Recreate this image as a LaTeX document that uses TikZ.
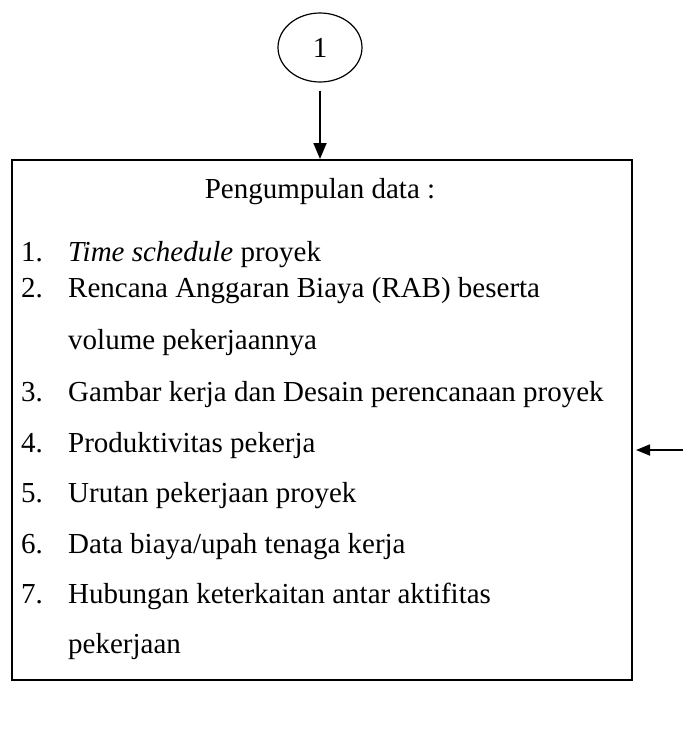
\documentclass[tikz,border=0pt]{standalone}
\usepackage{fontspec}
\setmainfont{Liberation Serif}
\usetikzlibrary{shapes.geometric,arrows.meta,positioning,calc}
\begin{document}
\begin{tikzpicture}[x=1pt,y=-1pt,
  txt/.style={anchor=base west,inner sep=0pt,font=\fontsize{29}{34}\selectfont},
  conn/.style={line width=1.8pt,-{Triangle[length=16pt,width=13pt]}},
  sideconn/.style={line width=1.8pt,-{Triangle[length=14pt,width=11pt]}}]
\useasboundingbox (0,0) rectangle (683,742);
% connector circle
\node[ellipse,draw,line width=1.2pt,minimum width=84pt,minimum height=69pt,
      font=\fontsize{29}{30}\selectfont] (c1) at (320,47.5) {1};
% data collection box
\node[draw,line width=1.7pt,rectangle,minimum width=620pt,minimum height=520pt,
      anchor=north west,inner sep=0pt] (box) at (11,159) {};
\coordinate (a0) at ($(c1.south)+(0,8)$);
\draw[conn] (a0) -- (box.north -| a0);
% title
\node[anchor=base,inner sep=0pt,font=\fontsize{29}{34}\selectfont] (title) at (320,198) {Pengumpulan data :};
% list entries
\node[txt] (n1) at (21,261) {1.};
\node[txt] (t1) at (68,261) {\textit{Time schedule} proyek};
\node[txt] (n2) at (21,297) {2.};
\node[txt] (t2) at (68,297) {Rencana Anggaran Biaya (RAB) beserta};
\node[txt] (t2b) at (68,349) {volume pekerjaannya};
\node[txt] (n3) at (21,401) {3.};
\node[txt] (t3) at (68,401) {Gambar kerja dan Desain perencanaan proyek};
\node[txt] (n4) at (21,452) {4.};
\node[txt] (t4) at (68,452) {Produktivitas pekerja};
\node[txt] (n5) at (21,502) {5.};
\node[txt] (t5) at (68,502) {Urutan pekerjaan proyek};
\node[txt] (n6) at (21,553) {6.};
\node[txt] (t6) at (68,553) {Data biaya/upah tenaga kerja};
\node[txt] (n7) at (21,603) {7.};
\node[txt] (t7) at (68,603) {Hubungan keterkaitan antar aktifitas};
\node[txt] (t7b) at (68,653) {pekerjaan};
% incoming connector on the right side
\coordinate (rin) at (683,450);
\coordinate (rtip) at (636,450);
\draw[sideconn] (rin) -- (rtip);
\end{tikzpicture}
\end{document}
